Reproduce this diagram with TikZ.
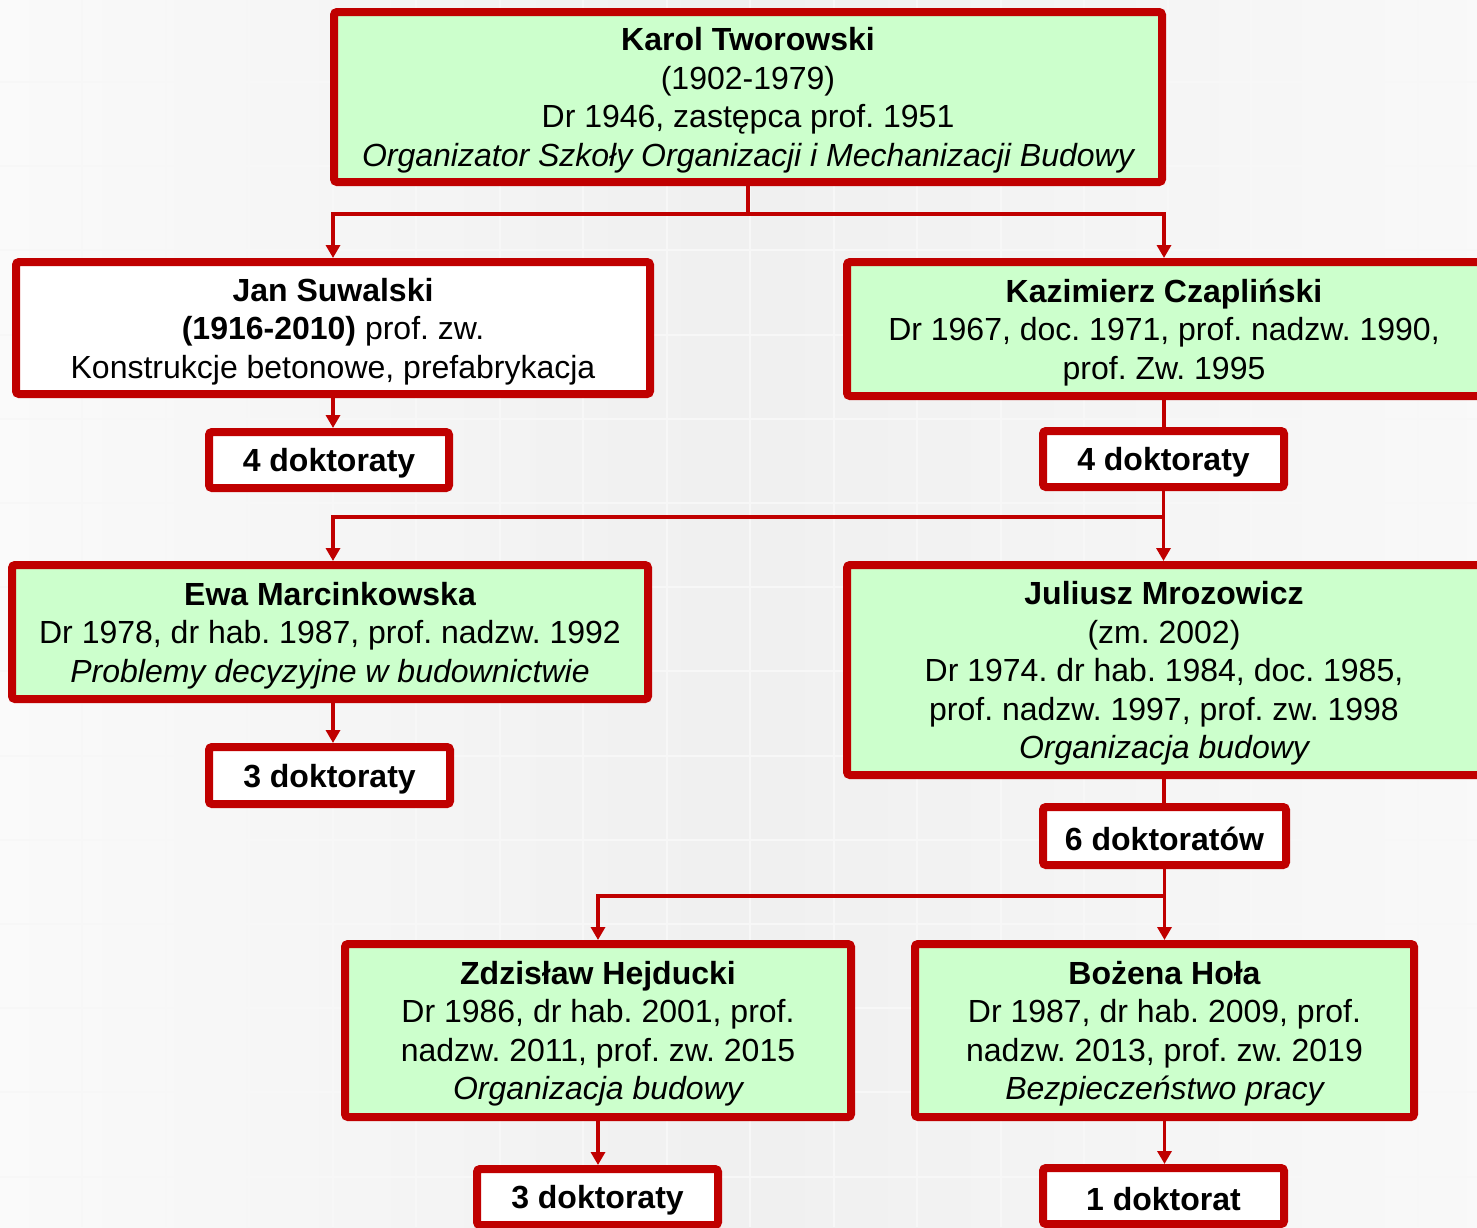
\documentclass[tikz,border=0pt]{standalone}
\usepackage{fontspec}
\setmainfont{Liberation Sans}
\usetikzlibrary{arrows, arrows.meta}
\frenchspacing

\definecolor{ramka}{HTML}{C00000}
\definecolor{zielony}{HTML}{CCFFCC}
\newcommand{\wys}{\rule{0pt}{30pt}}

\tikzset{
  osoba/.style={draw=ramka, line width=8pt, rounded corners=3pt, fill=zielony,
    align=center, inner sep=0pt, font=\fontsize{32}{38.5}\selectfont},
  dokt/.style={osoba, fill=white, font=\fontsize{32}{38.5}\selectfont\bfseries},
  linia/.style={draw=ramka, line width=3.5pt},
  strzalka/.style={linia, -{Triangle[length=13pt, width=14pt]}},
  siatka/.style={gray!6, line width=2pt}
}

\begin{document}
\begin{tikzpicture}[x=1pt, y=1pt]
      \useasboundingbox (0,0) rectangle (1477,-1227);
      \clip (0,0) rectangle (1477,-1227);
      \shade[left color=gray!4, right color=gray!5, middle color=gray!12] (0,0) rectangle (1477,-1227);
      \foreach \i in {1,...,17} \draw[siatka] (83.5*\i-1.5,0) -- (83.5*\i-1.5,-1227);
      \foreach \j in {1,...,14} \draw[siatka] (0,-84.2*\j+2.2) -- (1477,-84.2*\j+2.2);

      \node[osoba, minimum width=828pt, minimum height=170pt] (tworowski) at (748,-97)
        {\wys{\bfseries Karol Tworowski}\\ (1902-1979)\\ Dr 1946, zastępca prof. 1951\\
         {\itshape Organizator Szkoły Organizacji i Mechanizacji Budowy}};

      \node[osoba, fill=white, minimum width=634pt, minimum height=132pt] (suwalski) at (333,-328)
        {\wys{\bfseries Jan Suwalski}\\ {\bfseries (1916-2010)} prof. zw.\\ Konstrukcje betonowe, prefabrykacja};
      \node[osoba, minimum width=634pt, minimum height=134pt] (czaplinski) at (1164,-329)
        {\wys{\bfseries Kazimierz Czapliński}\\ Dr 1967, doc. 1971, prof. nadzw. 1990,\\ prof. Zw. 1995};

      \node[dokt, minimum width=240pt, minimum height=56pt] (dokt1) at (329,-460) {\wys 4 doktoraty};
      \node[dokt, minimum width=241pt, minimum height=56pt] (dokt2) at (1163.5,-459) {\wys 4 doktoraty};

      \node[osoba, minimum width=636pt, minimum height=134pt] (marcinkowska) at (330,-632)
        {\wys{\bfseries Ewa Marcinkowska}\\ Dr 1978, dr hab. 1987, prof. nadzw. 1992\\
         {\itshape Problemy decyzyjne w budownictwie}};
      \node[osoba, minimum width=634pt, minimum height=210pt] (mrozowicz) at (1164,-670)
        {\wys{\bfseries Juliusz Mrozowicz}\\ (zm. 2002)\\ Dr 1974. dr hab. 1984, doc. 1985,\\
         prof. nadzw. 1997, prof. zw. 1998\\ {\itshape Organizacja budowy}};

      \node[dokt, minimum width=241pt, minimum height=57pt] (dokt3) at (329.5,-775.5) {\wys 3 doktoraty};
      \node[dokt, minimum width=243pt, minimum height=58pt] (dokt4) at (1164.5,-836) {\wys 6 doktoratów};

      \node[osoba, minimum width=506pt, minimum height=173pt] (hejducki) at (598,-1030.5)
        {\wys{\bfseries Zdzisław Hejducki}\\ Dr 1986, dr hab. 2001, prof.\\ nadzw. 2011, prof. zw. 2015\\
         {\itshape Organizacja budowy}};
      \node[osoba, minimum width=499pt, minimum height=173pt] (hola) at (1164.5,-1030.5)
        {\wys{\bfseries Bożena Hoła}\\ Dr 1987, dr hab. 2009, prof.\\ nadzw. 2013, prof. zw. 2019\\
         {\itshape Bezpieczeństwo pracy}};

      \node[dokt, minimum width=241pt, minimum height=56pt] (dokt5) at (597.5,-1197) {\wys 3 doktoraty};
      \node[dokt, minimum width=241pt, minimum height=56pt] (dokt6) at (1163.5,-1196) {\wys 1 doktorat};

      \draw[linia] (tworowski.south) -- ++(0,-28) coordinate (rozw1);
      \draw[strzalka] (rozw1) -| (suwalski.north);
      \draw[strzalka] (rozw1) -| (czaplinski.north);

      \draw[strzalka] (suwalski.south) -- (suwalski.south |- dokt1.north);
      \draw[linia] (czaplinski.south) -- (czaplinski.south |- dokt2.north);

      \draw[linia] (dokt2.south) -- ++(0,-26) coordinate (rozw2);
      \draw[strzalka] (rozw2) -| (suwalski.south |- marcinkowska.north);
      \draw[strzalka] (dokt2.south) -- (dokt2.south |- mrozowicz.north);

      \draw[strzalka] (suwalski.south |- marcinkowska.south) -- (suwalski.south |- dokt3.north);
      \draw[linia] (mrozowicz.south) -- (mrozowicz.south |- dokt4.north);

      \draw[linia] (dokt4.south) -- ++(0,-27) coordinate (rozw3);
      \draw[strzalka] (rozw3) -| (hejducki.north);
      \draw[strzalka] (dokt4.south) -- (dokt4.south |- hola.north);

      \draw[strzalka] (hejducki.south) -- (hejducki.south |- dokt5.north);
      \draw[strzalka] (hola.south) -- (hola.south |- dokt6.north);
    \end{tikzpicture}
\end{document}
